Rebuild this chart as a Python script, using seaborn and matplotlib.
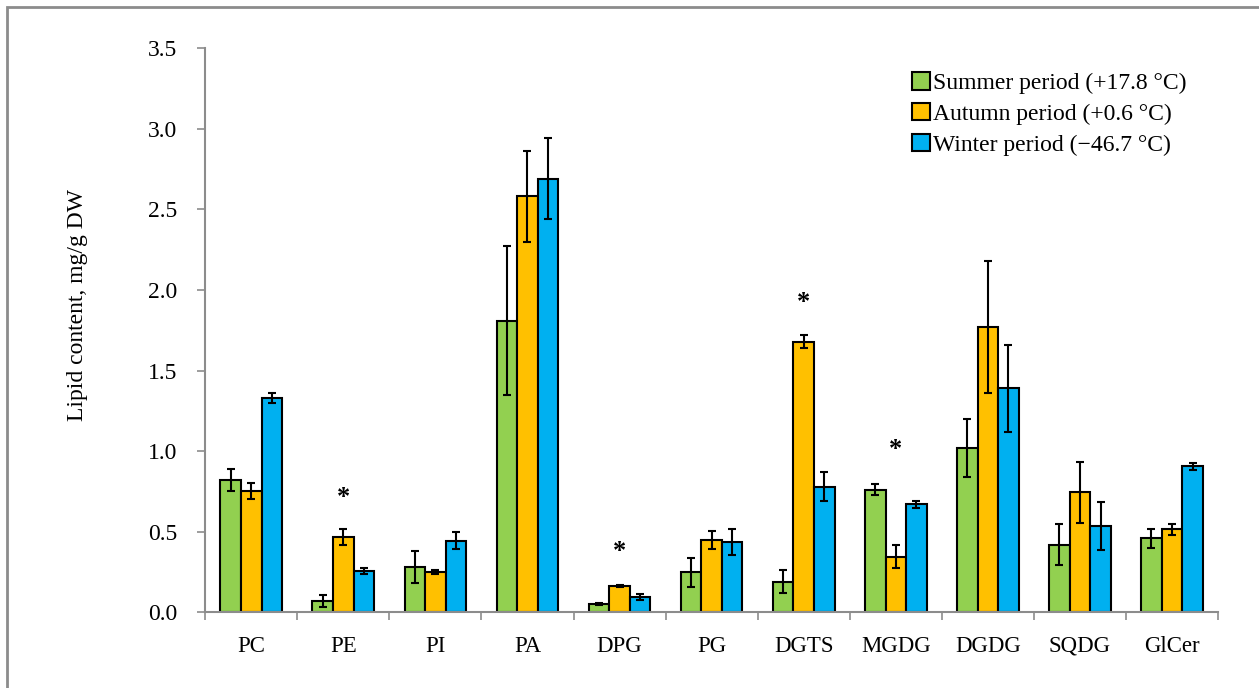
import numpy as np
import pandas as pd
import matplotlib
matplotlib.use('Agg')
import matplotlib.pyplot as plt
import seaborn as sns
from matplotlib.patches import Rectangle

lipids = ['PC', 'PE', 'PI', 'PA', 'DPG', 'PG', 'DGTS', 'MGDG', 'DGDG', 'SQDG', 'GlCer']
periods = ['Summer period (+17.8 °C)', 'Autumn period (+0.6 °C)', 'Winter period (\u221246.7 °C)']

summer = [0.82, 0.07, 0.28, 1.81, 0.05, 0.25, 0.19, 0.76, 1.02, 0.42, 0.46]
autumn = [0.75, 0.47, 0.25, 2.58, 0.165, 0.45, 1.68, 0.345, 1.77, 0.745, 0.515]
winter = [1.33, 0.255, 0.445, 2.69, 0.095, 0.435, 0.78, 0.67, 1.39, 0.535, 0.905]

summer_err = [0.07, 0.04, 0.10, 0.46, 0.005, 0.09, 0.07, 0.035, 0.18, 0.125, 0.06]
autumn_err = [0.05, 0.05, 0.015, 0.28, 0.005, 0.055, 0.04, 0.07, 0.41, 0.19, 0.035]
winter_err = [0.03, 0.02, 0.055, 0.25, 0.02, 0.08, 0.09, 0.02, 0.27, 0.15, 0.02]

# significance stars (over the autumn bar)
star_lipids = ['PE', 'DPG', 'DGTS', 'MGDG']
star_heights = [0.71, 0.38, 1.92, 1.01]

colors = ['#92D050', '#FFC000', '#00B0F0']

df = pd.DataFrame({
    'lipid': lipids * 3,
    'period': np.repeat(periods, len(lipids)),
    'value': summer + autumn + winter,
    'err': summer_err + autumn_err + winter_err,
})

plt.rcParams['font.family'] = ['Liberation Serif', 'DejaVu Serif']

fig = plt.figure(figsize=(12.59, 6.88), dpi=100)
ax = fig.add_axes([0.163, 0.110, 0.8045, 0.820])

sns.barplot(data=df, x='lipid', y='value', hue='period', palette=colors,
            width=0.67, edgecolor='black', linewidth=1.5, errorbar=None,
            saturation=1, ax=ax)

# error bars from the bar positions seaborn drew
bars = [p for p in ax.patches if p.get_height() > 0 or p.get_width() > 0][:len(df)]
for p, e in zip(bars, df['err']):
    ax.errorbar(p.get_x() + p.get_width() / 2, p.get_height(), yerr=e,
                fmt='none', ecolor='black', elinewidth=1.5, capsize=3, capthick=1.5)

for name, h in zip(star_lipids, star_heights):
    ax.text(lipids.index(name), h, '*', ha='center', va='center', fontsize=19,
            fontweight='bold')

ax.set_ylim(0, 3.5)
ax.set_xlim(-0.5, len(lipids) - 0.5)
ax.set_yticks(np.arange(0, 3.51, 0.5))
ax.set_yticklabels([f'{v:.1f}' for v in np.arange(0, 3.51, 0.5)], fontsize=17)
ax.set_xticks(range(len(lipids)))
ax.set_xticklabels(lipids, fontsize=16.5)
ax.set_xticks(np.arange(-0.5, len(lipids)), minor=True)
ax.tick_params(axis='x', which='major', length=0, pad=17)
ax.tick_params(axis='x', which='minor', length=6, color='#8c8c8c', width=1.2)
ax.tick_params(axis='y', length=6, color='#8c8c8c', width=1.2, pad=14)
ax.set_xlabel('')
ax.set_ylabel('Lipid content, mg/g DW', fontsize=17)
ax.yaxis.set_label_coords(-0.116, 0.545)

for s in ['top', 'right']:
    ax.spines[s].set_visible(False)
for s in ['left', 'bottom']:
    ax.spines[s].set_color('#8c8c8c')
    ax.spines[s].set_linewidth(1.5)

ax.legend(loc='upper right', bbox_to_anchor=(0.99, 0.995), frameon=False, fontsize=17,
          handlelength=0.75, handleheight=0.75, handletextpad=0.15, labelspacing=0.38)
for h in ax.get_legend().legend_handles:
    h.set_edgecolor('black')
    h.set_linewidth(1.5)

fig.patches.append(Rectangle((7 / 1259, -0.05), 1.0, 1 - 7 / 688 + 0.05,
                             transform=fig.transFigure, fill=False,
                             edgecolor='#8c8c8c', linewidth=2))

fig.savefig('out.png', dpi=100)
